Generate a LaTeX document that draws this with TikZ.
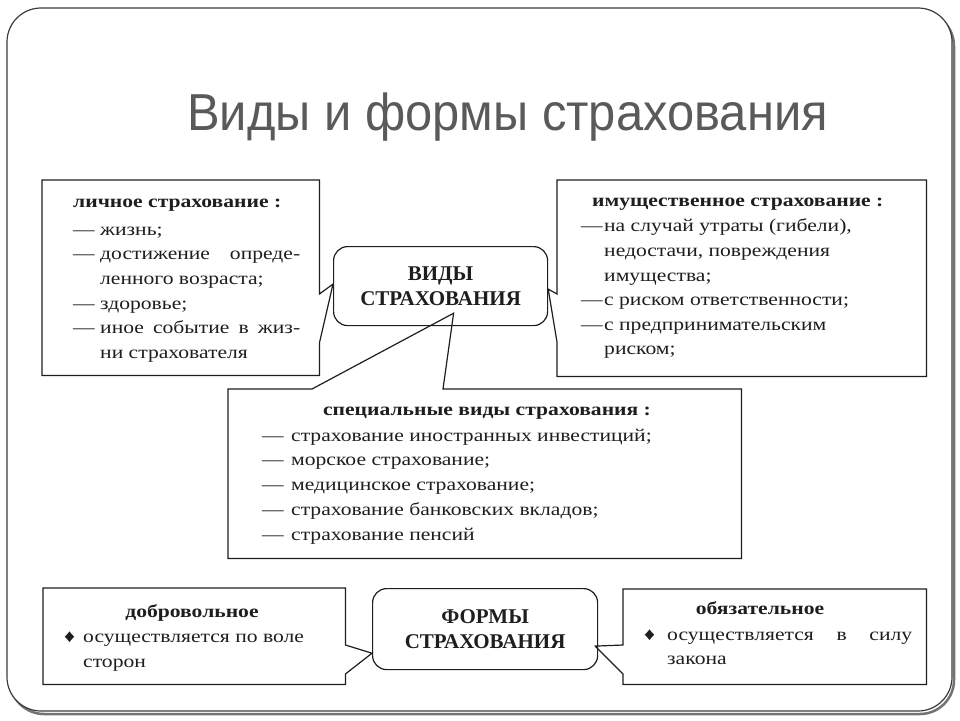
\documentclass[tikz,border=0pt]{standalone}
\usepackage{fontspec}
\setmainfont{Liberation Serif}
\newfontfamily\scanfont[FakeStretch=1.2]{Liberation Serif}
\newfontfamily\titlefont{Liberation Sans}
\usetikzlibrary{calc}
\definecolor{ink}{RGB}{30,30,30}
\definecolor{titlegray}{RGB}{90,90,90}
\definecolor{framecol}{RGB}{60,60,60}
\begin{document}
\begin{tikzpicture}[x=1pt,y=-1pt,
  outline/.style={draw=ink, line width=1.2pt, line join=miter},
  rbox/.style={draw=ink, line width=1.2pt, fill=white, rounded corners=14pt, inner sep=0pt, align=center, font=\bfseries\fontsize{21}{25}\selectfont, text=ink},
  area/.style={inner sep=0pt, draw=none},
  txt/.style={anchor=base west, inner sep=0pt, text=ink, font=\scanfont\fontsize{18}{22}\selectfont},
  btxt/.style={txt, font=\scanfont\bfseries\fontsize{18}{22}\selectfont},
  ctr/.style={anchor=base},
]
\useasboundingbox (0,0) rectangle (960,720);
% slide frame with shadow
\draw[line width=2.5pt, black!55, rounded corners=34pt] (10,12) rectangle (954,714);
\draw[fill=white, draw=framecol, line width=1.2pt, rounded corners=34pt] (7,8) rectangle (952,711);
% title
\node[anchor=base west, inner sep=0pt, text=titlegray, font=\titlefont\fontsize{52}{60}\selectfont] (title) at (187,130) {\scalebox{0.94}[1]{Виды и формы страхования}};

% ---------- box areas ----------
\node[area, minimum width=277pt, minimum height=195pt, anchor=north west] (lichnoe) at (42,180) {};
\node[area, minimum width=369pt, minimum height=196pt, anchor=north west] (imush) at (557,180) {};
\node[area, minimum width=513pt, minimum height=169pt, anchor=north west] (spec) at (228,389) {};
\node[area, minimum width=302pt, minimum height=96pt, anchor=north west] (dobr) at (43,588) {};
\node[area, minimum width=303pt, minimum height=95pt, anchor=north west] (obyaz) at (623,589) {};

% ---------- central rounded boxes ----------
\node[rbox, minimum width=214pt, minimum height=79pt, anchor=north west] (vidy) at (333,246) {ВИДЫ\\СТРАХОВАНИЯ};
\node[rbox, minimum width=225pt, minimum height=81pt, anchor=north west] (formy) at (372,588) {ФОРМЫ\\СТРАХОВАНИЯ};

% pointer tips
\coordinate (tipL) at ($(vidy.west)+(0,-2)$);
\coordinate (tipR) at ($(vidy.east)+(0,3)$);
\coordinate (tipB) at ($(vidy.south)+(13,-13)$);
\coordinate (tipDL) at ($(formy.south west)+(0,-17)$);
\coordinate (tipDR) at ($(formy.east)+(-3,17)$);

% ---------- callout outlines ----------
\draw[outline] (lichnoe.north west) -- (lichnoe.north east) -- ($(lichnoe.north east)+(0,114)$) -- (tipL)
  -- ($(lichnoe.north east)+(0,163)$) -- (lichnoe.south east) -- (lichnoe.south west) -- cycle;
\draw[outline] (imush.north west) -- (imush.north east) -- (imush.south east) -- (imush.south west)
  -- ($(imush.north west)+(0,162)$) -- (tipR) -- ($(imush.north west)+(0,114)$) -- cycle;
\draw[outline] (spec.north west) -- ($(spec.north west)+(84,0)$) -- (tipB) -- ($(spec.north west)+(215,0)$)
  -- (spec.north east) -- (spec.south east) -- (spec.south west) -- cycle;
\draw[outline] (dobr.north west) -- (dobr.north east) -- ($(dobr.north east)+(0,57)$) -- (tipDL)
  -- ($(dobr.north east)+(0,86)$) -- (dobr.south east) -- (dobr.south west) -- cycle;
\draw[outline] (obyaz.north west) -- (obyaz.north east) -- (obyaz.south east) -- (obyaz.south west)
  -- ($(obyaz.north west)+(0,85)$) -- (tipDR) -- ($(obyaz.north west)+(0,56)$) -- cycle;

% ---------- left box text ----------
\node[btxt] (l0) at (73,207) {личное страхование :};
\node[txt] (l1) at (73,235) {\makebox[27pt][l]{—}жизнь;};
\node[txt] (l2) at (73,259.5) {\makebox[27pt][l]{—}\makebox[200pt][s]{достижение опреде-}};
\node[txt] (l3) at (100,284) {ленного возраста;};
\node[txt] (l4) at (73,309) {\makebox[27pt][l]{—}здоровье;};
\node[txt] (l5) at (73,333.5) {\makebox[27pt][l]{—}\makebox[200pt][s]{иное событие в жиз-}};
\node[txt] (l6) at (100,358) {ни страхователя};

% ---------- right box text ----------
\node[btxt] (r0) at (592,206) {имущественное страхование :};
\node[txt] (r1) at (581,231) {\makebox[23pt][l]{—}на случай утраты (гибели),};
\node[txt] (r2) at (604,256) {недостачи, повреждения};
\node[txt] (r3) at (604,281) {имущества;};
\node[txt] (r4) at (581,305) {\makebox[23pt][l]{—}с риском ответственности;};
\node[txt] (r5) at (581,330) {\makebox[23pt][l]{—}с предпринимательским};
\node[txt] (r6) at (604,354) {риском;};

% ---------- special box text ----------
\node[btxt, ctr] (s0) at (487,415) {специальные виды страхования :};
\node[txt] (s1) at (262,441) {\makebox[29pt][l]{—}страхование иностранных инвестиций;};
\node[txt] (s2) at (262,465) {\makebox[29pt][l]{—}морское страхование;};
\node[txt] (s3) at (262,490) {\makebox[29pt][l]{—}медицинское страхование;};
\node[txt] (s4) at (262,515) {\makebox[29pt][l]{—}страхование банковских вкладов;};
\node[txt] (s5) at (262,540) {\makebox[29pt][l]{—}страхование пенсий};

% ---------- bottom boxes text ----------
\node[btxt, ctr] (d0) at (192,617) {добровольное};
\node[txt] (d1) at (64,642) {\makebox[19pt][l]{♦}осуществляется по воле};
\node[txt] (d2) at (83,667) {сторон};

\node[btxt, ctr] (o0) at (760,614) {обязательное};
\node[txt] (o1) at (644,640) {\makebox[23pt][l]{♦}\makebox[245pt][s]{осуществляется в силу}};
\node[txt] (o2) at (667,664) {закона};
\end{tikzpicture}
\end{document}
